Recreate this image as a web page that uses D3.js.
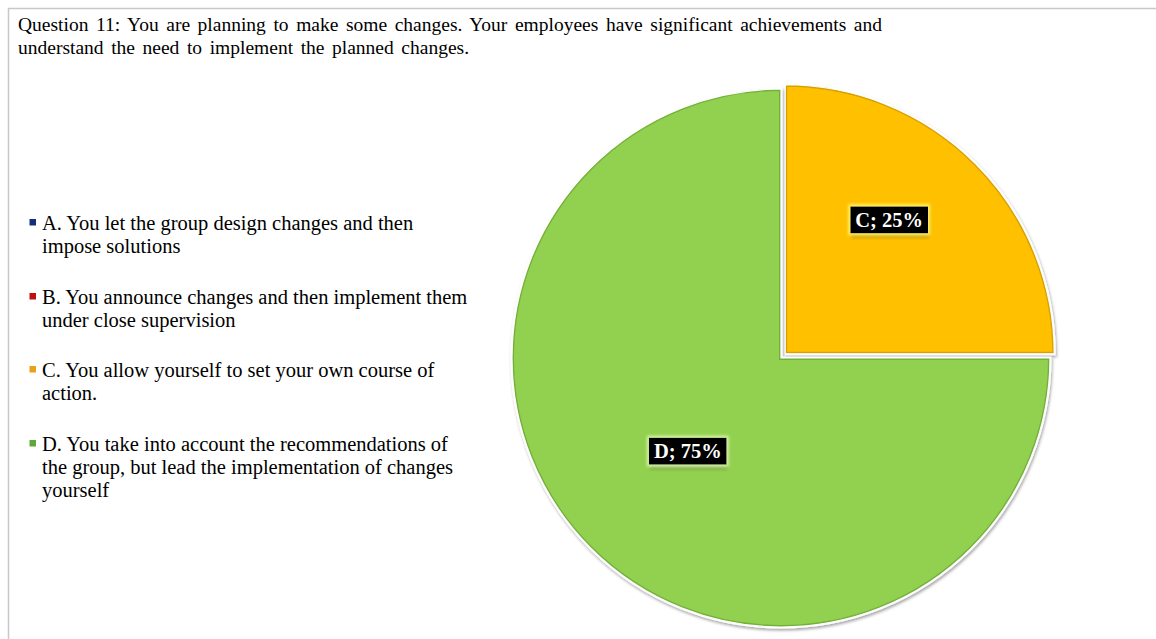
<!DOCTYPE html>
<html><head><meta charset="utf-8">
<script src="https://cdn.jsdelivr.net/npm/d3@7"></script>
<style>
html,body{margin:0;padding:0;background:#fff;}
svg{display:block;}
</style></head>
<body>
<svg id="chart" width="1156" height="639"></svg>
<script>
// ---- data ----
const titleLines = [
  "Question 11: You are planning to make some changes. Your employees have significant achievements and",
  "understand the need to implement the planned changes."
];
const categories = ["A", "B", "C", "D"];
const values = [0, 0, 25, 75];
const legendLines = [
  ["A. You let the group design changes and then", "impose solutions"],
  ["B. You announce changes and then implement them", "under close supervision"],
  ["C. You allow yourself to set your own course of", "action."],
  ["D. You take into account the recommendations of", "the group, but lead the implementation of changes", "yourself"]
];
const sliceColors = ["#1F3F86", "#C00000", "#FFC000", "#92D050"];
const sliceEdge = ["#15306a", "#900000", "#D9A000", "#74B038"];
const legendColors = ["#12307A", "#C01010", "#E8A21A", "#5EA73A"];

// ---- layout ----
const svg = d3.select("#chart");
const W = 1156, H = 639;
const cx = 781, cy = 358, R = 269;
const explode = { C: 6 };
const labelPos = { C: [0.42, 0.63], D: [0.5, 0.49] }; // [angle fraction, radius fraction]

const defs = svg.append("defs");
const sh = defs.append("filter").attr("id", "shadow").attr("x", "-10%").attr("y", "-10%").attr("width", "120%").attr("height", "120%");
sh.append("feDropShadow").attr("dx", 1).attr("dy", 2).attr("stdDeviation", 1.5).attr("flood-color", "#000").attr("flood-opacity", 0.35);

function glowFilter(id, color) {
  const f = defs.append("filter").attr("id", id).attr("x", "-30%").attr("y", "-60%").attr("width", "160%").attr("height", "220%");
  f.append("feMorphology").attr("in", "SourceAlpha").attr("operator", "dilate").attr("radius", 2).attr("result", "dil");
  f.append("feGaussianBlur").attr("in", "dil").attr("stdDeviation", 1.5).attr("result", "blur");
  f.append("feFlood").attr("flood-color", color).attr("flood-opacity", 1);
  f.append("feComposite").attr("in2", "blur").attr("operator", "in").attr("result", "glowc");
  f.append("feOffset").attr("in", "SourceAlpha").attr("dx", 1).attr("dy", 4).attr("result", "off");
  f.append("feGaussianBlur").attr("in", "off").attr("stdDeviation", 1.5).attr("result", "offb");
  f.append("feFlood").attr("flood-color", "#000").attr("flood-opacity", 0.45);
  f.append("feComposite").attr("in2", "offb").attr("operator", "in").attr("result", "shad");
  const m = f.append("feMerge");
  m.append("feMergeNode").attr("in", "shad");
  m.append("feMergeNode").attr("in", "glowc");
  m.append("feMergeNode").attr("in", "SourceGraphic");
}
glowFilter("glowC", "#FFF36A");
glowFilter("glowD", "#D8F5A8");

// frame
svg.append("path").attr("d", `M8.5,${H} L8.5,8.5 L${W},8.5`)
  .attr("fill", "none").attr("stroke", "#c8c8c8").attr("stroke-width", 1.5);

const serif = "'Liberation Serif', 'Times New Roman', serif";
// title
svg.append("g").selectAll("text").data(titleLines).join("text")
  .attr("x", 18).attr("y", (d, i) => 31 + i * 23)
  .attr("font-family", serif)
  .attr("font-size", 19.5).attr("fill", "#000")
  .attr("word-spacing", 2.7)
  .text(d => d);

// legend
const lg = svg.append("g").attr("font-family", serif).attr("font-size", 20.5);
const legendY = [230, 304, 377, 451];
categories.forEach((c, i) => {
  const g = lg.append("g");
  g.append("rect").attr("x", 29.5).attr("y", legendY[i] - 11).attr("width", 6.5).attr("height", 6.5).attr("fill", legendColors[i]);
  g.selectAll("text").data(legendLines[i]).join("text")
    .attr("x", 42).attr("y", (d, j) => legendY[i] + j * 23)
    .attr("fill", "#000").text(d => d);
});

// pie
const pie = d3.pie().sort(null).value(d => d.value);
const arcs = pie(categories.map((c, i) => ({ cat: c, value: values[i], i })));
const arcGen = d3.arc().innerRadius(0).outerRadius(R);
const pg = svg.append("g").attr("transform", `translate(${cx},${cy})`);

arcs.filter(a => a.data.value > 0).forEach(a => {
  const mid = (a.startAngle + a.endAngle) / 2;
  const off = explode[a.data.cat] || 0;
  const g = pg.append("g").attr("transform", `translate(${Math.sin(mid) * off},${-Math.cos(mid) * off})`);
  const id = "clip" + a.data.cat;
  defs.append("clipPath").attr("id", id).append("path").attr("d", arcGen(a));
  g.append("path").attr("d", arcGen(a)).attr("fill", sliceColors[a.data.i])
    .attr("stroke", "#fff").attr("stroke-width", 3).attr("filter", "url(#shadow)");
  g.append("path").attr("d", arcGen(a)).attr("fill", "none")
    .attr("stroke", sliceEdge[a.data.i]).attr("stroke-width", 4)
    .attr("clip-path", `url(#${id})`);
  g.append("path").attr("d", arcGen(a)).attr("fill", "none")
    .attr("stroke", "#fff").attr("stroke-width", 1.2);
});

// labels
arcs.filter(a => a.data.value > 0).forEach(a => {
  const p = labelPos[a.data.cat] || [0.5, 0.5];
  const ang = a.startAngle + p[0] * (a.endAngle - a.startAngle);
  const mid = (a.startAngle + a.endAngle) / 2;
  const off = explode[a.data.cat] || 0;
  const lr = R * p[1];
  const lx = Math.sin(ang) * lr + Math.sin(mid) * off, ly = -Math.cos(ang) * lr - Math.cos(mid) * off;
  const txt = `${a.data.cat}; ${a.data.value}%`;
  const g = pg.append("g").attr("transform", `translate(${lx},${ly})`);
  const t = g.append("text").attr("text-anchor", "middle").attr("dy", "0.34em")
    .attr("font-family", serif)
    .attr("font-weight", "bold").attr("font-size", 20.5).attr("fill", "#fff").text(txt);
  const bb = t.node().getBBox();
  g.insert("rect", "text").attr("x", bb.x - 5).attr("y", -13.5).attr("width", bb.width + 10).attr("height", 27)
    .attr("fill", "#000")
    .attr("filter", `url(#glow${a.data.cat})`);
});
</script>
</body></html>
